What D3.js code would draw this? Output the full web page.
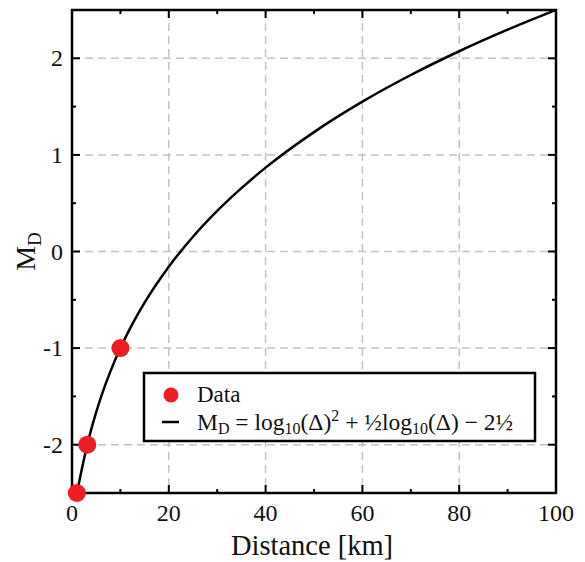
<!DOCTYPE html>
<html><head><meta charset="utf-8">
<script src="https://cdn.jsdelivr.net/npm/d3@7"></script>
<style>body{margin:0;background:#fff}svg{display:block}</style>
</head><body>
<script>
// Data
const dataDist = [1, 3.16, 10];
const dataMag = [-2.5, -2, -1];
const curveDist = [1, 1.5, 2, 2.5, 3, 4, 5, 6, 8, 10, 12, 15, 20, 25, 30, 35, 40, 50, 60, 70, 80, 90, 100];
const curveMag = [-2.5, -2.381, -2.259, -2.143, -2.034, -1.836, -1.662, -1.505, -1.233, -1.0, -0.796, -0.529, -0.157, 0.153, 0.420, 0.656, 0.868, 1.236, 1.551, 1.827, 2.073, 2.296, 2.5];
const xTicks = [0, 20, 40, 60, 80, 100];
const yTicks = [-2, -1, 0, 1, 2];
const xMinor = [10, 30, 50, 70, 90];
const yMinor = [-1.5, -0.5, 0.5, 1.5];

const FONT = "'Liberation Serif', Tinos, 'DejaVu Serif', serif";
const W = 585, H = 562;
const m = {l: 72, r: 29, t: 10, b: 69};
const svg = d3.select("body").append("svg").attr("width", W).attr("height", H)
  .attr("font-family", FONT);
const x = d3.scaleLinear().domain([0, 100]).range([m.l, W - m.r]);
const y = d3.scaleLinear().domain([-2.5, 2.5]).range([H - m.b, m.t]);
const x0 = x.range()[0], x1 = x.range()[1], y0 = y.range()[0], y1 = y.range()[1];

svg.append("defs").append("clipPath").attr("id", "clip")
  .append("rect").attr("x", x0).attr("y", y1).attr("width", x1 - x0).attr("height", y0 - y1);

// grid
const grid = svg.append("g").attr("stroke", "#c4c4c4").attr("stroke-width", 1.5).attr("stroke-dasharray", "8,5");
grid.selectAll(".gx").data(xTicks.slice(1, -1)).enter().append("line")
  .attr("x1", d => x(d)).attr("x2", d => x(d)).attr("y1", y1).attr("y2", y0);
grid.selectAll(".gy").data(yTicks).enter().append("line")
  .attr("y1", d => y(d)).attr("y2", d => y(d)).attr("x1", x0).attr("x2", x1);

// curve
const pts = curveDist.map((d, i) => [d, curveMag[i]]);
svg.append("path").datum(pts).attr("clip-path", "url(#clip)")
  .attr("fill", "none").attr("stroke", "#000").attr("stroke-width", 2.5)
  .attr("d", d3.line().x(d => x(d[0])).y(d => y(d[1])).curve(d3.curveMonotoneX));

// ticks (inward, all four sides)
const tk = svg.append("g").attr("stroke", "#000").attr("stroke-width", 2);
function ticks(vals, len) {
  vals.forEach(v => {
    tk.append("line").attr("x1", x(v)).attr("x2", x(v)).attr("y1", y0).attr("y2", y0 - len);
    tk.append("line").attr("x1", x(v)).attr("x2", x(v)).attr("y1", y1).attr("y2", y1 + len);
  });
}
function yticks(vals, len) {
  vals.forEach(v => {
    tk.append("line").attr("y1", y(v)).attr("y2", y(v)).attr("x1", x0).attr("x2", x0 + len);
    tk.append("line").attr("y1", y(v)).attr("y2", y(v)).attr("x1", x1).attr("x2", x1 - len);
  });
}
ticks(xTicks, 8); ticks(xMinor, 4); yticks(yTicks, 8); yticks(yMinor, 4);

// frame
svg.append("rect").attr("x", x0).attr("y", y1).attr("width", x1 - x0).attr("height", y0 - y1)
  .attr("fill", "none").attr("stroke", "#000").attr("stroke-width", 2.5);

// tick labels
svg.selectAll(".xl").data(xTicks).enter().append("text")
  .attr("x", d => x(d)).attr("y", y0 + 28).attr("text-anchor", "middle").attr("font-size", 24).attr("fill", "#111").text(d => d);
svg.selectAll(".yl").data(yTicks).enter().append("text")
  .attr("x", x0 - 9).attr("y", d => y(d) + 8).attr("text-anchor", "end").attr("font-size", 24).attr("fill", "#111").text(d => d);

// axis titles
svg.append("text").attr("x", 312).attr("y", 555).attr("text-anchor", "middle").attr("font-size", 28.5).attr("fill", "#111").text("Distance [km]");
const yt = svg.append("text").attr("transform", `translate(35,${(y0 + y1) / 2}) rotate(-90)`).attr("text-anchor", "middle").attr("font-size", 28).attr("fill", "#111");
yt.append("tspan").text("M");
yt.append("tspan").attr("font-size", 19).attr("dy", 6).text("D");

// data points
svg.append("g").selectAll("circle").data(dataDist.map((d, i) => [d, dataMag[i]])).enter().append("circle")
  .attr("cx", d => x(d[0])).attr("cy", d => y(d[1])).attr("r", 9).attr("fill", "#ee1d25");

// legend
const lg = svg.append("g");
lg.append("rect").attr("x", 144).attr("y", 373).attr("width", 391).attr("height", 68)
  .attr("fill", "#fff").attr("stroke", "#000").attr("stroke-width", 2.5);
lg.append("circle").attr("cx", 171).attr("cy", 395).attr("r", 7.5).attr("fill", "#ee1d25");
lg.append("text").attr("x", 197).attr("y", 402).attr("font-size", 23).attr("fill", "#111").text("Data");
lg.append("line").attr("x1", 162).attr("x2", 179).attr("y1", 422).attr("y2", 422).attr("stroke", "#000").attr("stroke-width", 2.5);
const ft = lg.append("text").attr("x", 197).attr("y", 430).attr("font-size", 23.5).attr("fill", "#111");
ft.append("tspan").text("M");
ft.append("tspan").attr("font-size", 16).attr("dy", 4).text("D");
ft.append("tspan").attr("dy", -4).text(" = log");
ft.append("tspan").attr("font-size", 16).attr("dy", 4).text("10");
ft.append("tspan").attr("dy", -4).text("(Δ)");
ft.append("tspan").attr("font-size", 16).attr("dy", -9).text("2");
ft.append("tspan").attr("dy", 9).text(" + ½log");
ft.append("tspan").attr("font-size", 16).attr("dy", 4).text("10");
ft.append("tspan").attr("dy", -4).text("(Δ) − 2½");
</script>
</body></html>
